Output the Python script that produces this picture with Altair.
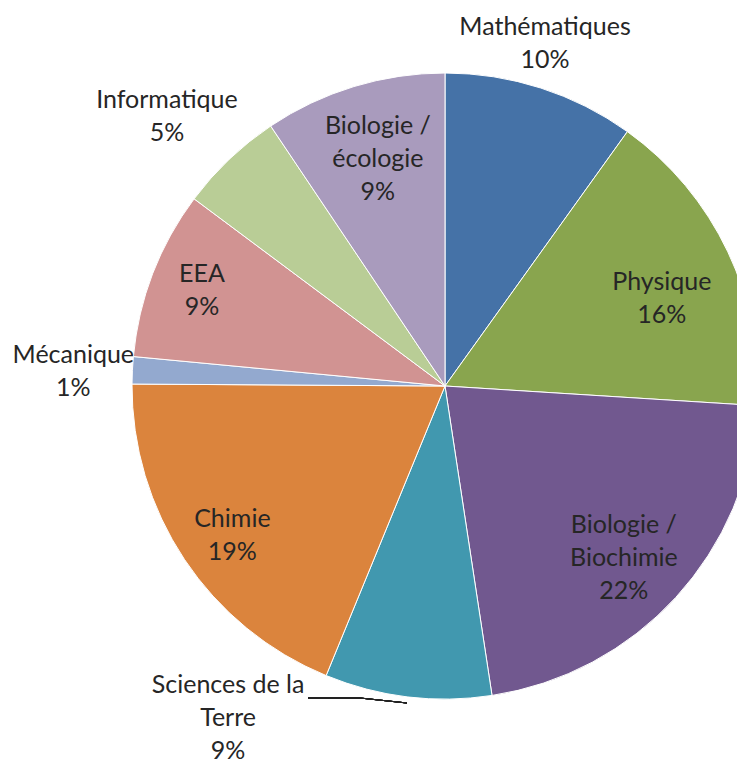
import altair as alt
import pandas as pd

# ---- data ----
categories = ["Mathématiques", "Physique", "Biologie / Biochimie", "Sciences de la Terre",
              "Chimie", "Mécanique", "EEA", "Informatique", "Biologie / écologie"]
label_names = ["Mathématiques", "Physique", "Biologie /\nBiochimie", "Sciences de la\nTerre",
               "Chimie", "Mécanique", "EEA", "Informatique", "Biologie /\nécologie"]
shares = [9.9, 16.1, 21.6, 8.6, 18.9, 1.4, 8.7, 5.4, 9.4]
pct_labels = ["10%", "16%", "22%", "9%", "19%", "1%", "9%", "5%", "9%"]

# ---- style / layout ----
colors = ["#4572A7", "#89A54E", "#71588F", "#4198AF", "#DB843D",
          "#93A9CF", "#D19392", "#B9CD96", "#A99BBD"]
# label placement: distance from centre (px) and angular nudge (in % of the circle)
label_radius = {"Mathématiques": 357, "Physique": 234, "Biologie / Biochimie": 248,
                "Sciences de la Terre": 397, "Chimie": 260, "Mécanique": 372, "EEA": 261,
                "Informatique": 387, "Biologie / écologie": 237}
label_nudge = {"Mathématiques": -0.43, "Physique": 0.92, "Biologie / Biochimie": 0.38,
               "Sciences de la Terre": 7.3, "Chimie": -0.41, "Mécanique": -0.16, "EEA": 0.08,
               "Informatique": -0.66, "Biologie / écologie": 0.13}
W, H = 729, 758
CX, CY = 437, 378
R = 313
FONT = "Lato"
FS = 25
LH = 33
TXT = "#262626"

df = pd.DataFrame({
    "idx": list(range(len(categories))),
    "category": categories,
    "share": shares,
    "label": [f"{n}\n{p}" for n, p in zip(label_names, pct_labels)],
    "nl": [n.count("\n") + 2 for n in label_names],
    "lr": [label_radius[c] for c in categories],
    "nudge": [label_nudge[c] for c in categories],
})

tscale = alt.Scale(domain=[0, 100])
base = alt.Chart(df)

arcs = base.mark_arc(radius=R, stroke="white", strokeWidth=1).encode(
    theta=alt.Theta("share:Q", stack=True, scale=tscale),
    order=alt.Order("idx:Q"),
    color=alt.Color("category:N", scale=alt.Scale(domain=categories, range=colors), legend=None),
    x=alt.value(CX), y=alt.value(CY),
)

lab_base = base.transform_window(
    cum="sum(share)", sort=[alt.SortField("idx")], frame=[None, 0]
).transform_calculate(mid="datum.cum - datum.share / 2 + datum.nudge")


def text_layer(nlines):
    return lab_base.transform_filter(f"datum.nl == {nlines}").mark_text(
        font=FONT, fontSize=FS, lineBreak="\n", lineHeight=LH, color=TXT,
        align="center", baseline="middle", dy=-(nlines - 1) * LH / 2,
    ).encode(
        theta=alt.Theta("mid:Q", stack=None, scale=tscale),
        radius=alt.Radius("lr:Q", scale=None),
        text="label:N",
        x=alt.value(CX), y=alt.value(CY),
    )


labels2 = text_layer(2)
labels3 = text_layer(3)

leader1 = base.mark_rule(color="#222222", strokeWidth=1).encode(
    x=alt.value(300), x2=alt.value(352), y=alt.value(690), y2=alt.value(690))
leader2 = base.mark_rule(color="#222222", strokeWidth=1).encode(
    x=alt.value(352), x2=alt.value(399), y=alt.value(690), y2=alt.value(695))

chart = alt.layer(arcs, labels2, labels3, leader1, leader2).properties(
    width=W, height=H, autosize=alt.AutoSizeParams(type="none"), padding=0,
    background="white",
).configure_view(stroke=None)

chart.save("out.html", embed_options={"renderer": "svg", "actions": False})
